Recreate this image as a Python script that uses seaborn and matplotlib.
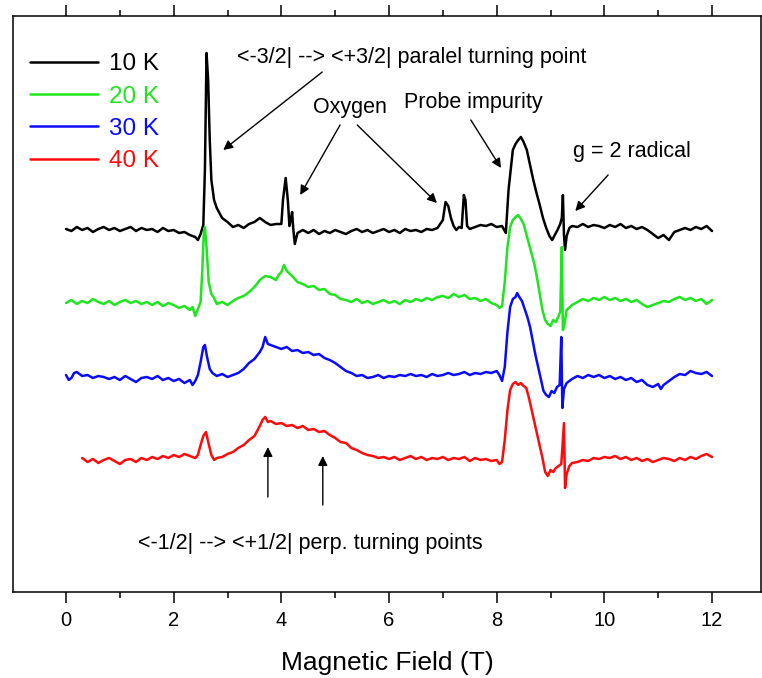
import pandas as pd
import matplotlib
matplotlib.use("Agg")
import matplotlib.pyplot as plt
import seaborn as sns

# spectra, signal relative to each trace's own baseline (arb. units)
temps = ["10 K", "20 K", "30 K", "40 K"]
colors = ["#000000", "#1ee61e", "#0a0aff", "#ff0a0a"]
offsets = [362, 290, 215, 132]

trace_10K = [
    (0.00, 1), (0.10, -1), (0.20, 3), (0.30, 0), (0.40, 2), (0.50, -2), (0.60, 1), (0.70, 3),
    (0.80, 0), (0.90, 2), (1.00, -1), (1.10, 1), (1.20, 3), (1.30, -1), (1.40, 2), (1.50, 0),
    (1.60, 1), (1.70, -2), (1.80, 2), (1.90, -1), (2.00, 0), (2.10, -3), (2.20, -2), (2.30, -5),
    (2.40, -7), (2.45, -10), (2.50, -4), (2.55, 5), (2.58, 60), (2.61, 177), (2.64, 150),
    (2.67, 90), (2.70, 50), (2.75, 30), (2.80, 22), (2.90, 12), (3.00, 8), (3.10, 3), (3.20, 5),
    (3.30, 2), (3.40, 6), (3.50, 8), (3.60, 12), (3.65, 10), (3.70, 8), (3.80, 5), (3.90, 6),
    (4.00, 6), (4.03, 30), (4.08, 52), (4.12, 30), (4.15, 4), (4.18, 12), (4.20, 18), (4.22, 2),
    (4.25, -14), (4.30, -3), (4.40, 0), (4.50, -3), (4.60, 0), (4.70, -4), (4.80, -1), (4.90, -3),
    (5.00, 0), (5.10, -2), (5.20, -4), (5.30, -1), (5.40, 1), (5.50, -2), (5.60, 0), (5.70, -3),
    (5.80, -1), (5.90, 1), (6.00, -2), (6.10, 0), (6.20, -3), (6.30, 1), (6.40, -1), (6.50, 0),
    (6.60, -2), (6.70, 1), (6.80, 0), (6.90, 2), (7.00, 10), (7.05, 28), (7.10, 24), (7.15, 12),
    (7.20, 4), (7.25, 0), (7.30, 3), (7.35, 2), (7.39, 35), (7.42, 30), (7.45, 4), (7.50, 1),
    (7.60, 3), (7.70, 5), (7.80, 4), (7.90, 6), (8.00, 3), (8.10, 4), (8.17, -3), (8.22, 40),
    (8.30, 80), (8.35, 86), (8.40, 90), (8.45, 93), (8.50, 88), (8.56, 80), (8.62, 65),
    (8.68, 50), (8.74, 37), (8.80, 25), (8.86, 12), (8.92, 2), (8.98, -6), (9.03, -10),
    (9.08, -5), (9.13, 0), (9.18, 6), (9.21, 12), (9.23, 35), (9.25, -5), (9.27, -20),
    (9.30, -6), (9.35, 2), (9.40, 4), (9.50, 3), (9.60, 6), (9.70, 3),
    (9.80, 5), (9.90, 4), (10.00, 2), (10.10, 5), (10.20, 3), (10.30, 6), (10.40, 2), (10.50, 4),
    (10.60, 1), (10.70, 3), (10.80, 0), (10.90, -4), (11.00, -8), (11.10, -5), (11.20, -10),
    (11.30, -2), (11.40, 0), (11.50, 2), (11.60, 0), (11.70, 3), (11.80, 1), (11.90, 4), (12.00, -1),
]

trace_20K = [
    (0.00, -1), (0.10, 2), (0.20, -2), (0.30, 1), (0.40, -1), (0.50, 3), (0.60, 0), (0.70, -2),
    (0.80, 1), (0.90, -3), (1.00, 0), (1.10, 2), (1.20, -1), (1.30, 1), (1.40, -2), (1.50, 0),
    (1.60, -3), (1.70, 0), (1.80, -4), (1.90, -1), (2.00, -3), (2.10, -6), (2.20, -4), (2.30, -8),
    (2.35, -5), (2.40, -14), (2.45, -7), (2.50, 0), (2.53, 30), (2.56, 70), (2.58, 75),
    (2.61, 55), (2.65, 20), (2.70, 8), (2.75, 4), (2.80, -2), (2.90, 0), (3.00, -3), (3.10, 1),
    (3.20, 4), (3.30, 6), (3.40, 10), (3.50, 15), (3.60, 22), (3.70, 26), (3.80, 25), (3.90, 22),
    (3.95, 27), (4.00, 30), (4.05, 37), (4.10, 31), (4.20, 26), (4.30, 20), (4.40, 18), (4.50, 15),
    (4.60, 16), (4.70, 12), (4.80, 13), (4.90, 8), (5.00, 7), (5.10, 3), (5.20, 2), (5.30, 0),
    (5.40, 3), (5.50, -1), (5.60, 1), (5.70, -2), (5.80, 0), (5.90, 2), (6.00, -1), (6.10, 1),
    (6.20, -2), (6.30, 2), (6.40, 0), (6.50, 3), (6.60, 1), (6.70, 4), (6.80, 2), (6.90, 5),
    (7.00, 6), (7.10, 4), (7.20, 8), (7.30, 5), (7.40, 7), (7.50, 3), (7.60, 4), (7.70, 1),
    (7.80, 3), (7.90, -1), (8.00, -3), (8.05, -6), (8.10, -4), (8.15, 20), (8.20, 55), (8.25, 75),
    (8.30, 82), (8.35, 85), (8.40, 87), (8.45, 83), (8.50, 78), (8.55, 68), (8.60, 58), (8.65, 48),
    (8.70, 38), (8.75, 24), (8.80, 8), (8.85, -8), (8.90, -18), (8.95, -22), (9.00, -24),
    (9.05, -18), (9.10, -20), (9.15, -14), (9.18, -10), (9.21, 55), (9.23, -28), (9.26, -22),
    (9.30, -8), (9.40, -3), (9.50, 0), (9.60, 3), (9.70, 1), (9.80, 4), (9.90, 2), (10.00, 5),
    (10.10, 2), (10.20, 4), (10.30, 1), (10.40, 3), (10.50, 0), (10.60, 2), (10.70, -2),
    (10.80, -5), (10.90, -3), (11.00, -1), (11.10, 1), (11.20, 0), (11.30, 3), (11.40, 5),
    (11.50, 2), (11.60, 4), (11.70, 1), (11.80, 3), (11.90, -2), (12.00, 2),
]

trace_30K = [
    (0.00, 2), (0.05, -3), (0.10, -1), (0.15, 4), (0.20, 5), (0.30, 1), (0.40, 2), (0.50, -1),
    (0.60, 1), (0.70, 0), (0.80, -2), (0.90, 0), (1.00, -3), (1.10, 1), (1.20, -2), (1.30, -5),
    (1.40, -1), (1.50, 0), (1.60, -2), (1.70, 1), (1.80, -3), (1.90, -1), (2.00, -4), (2.10, -2),
    (2.20, -6), (2.30, -3), (2.35, -8), (2.40, -4), (2.45, 2), (2.50, 15), (2.55, 30), (2.58, 32),
    (2.62, 20), (2.67, 8), (2.72, 4), (2.80, 1), (2.90, 3), (3.00, 0), (3.10, 2), (3.20, 4),
    (3.30, 8), (3.40, 14), (3.50, 18), (3.60, 25), (3.65, 30), (3.70, 40), (3.75, 33), (3.80, 32),
    (3.90, 30), (4.00, 28), (4.10, 30), (4.20, 26), (4.30, 27), (4.40, 24), (4.50, 25), (4.60, 22),
    (4.70, 23), (4.80, 19), (4.90, 17), (5.00, 14), (5.10, 10), (5.20, 6), (5.30, 4), (5.40, 1),
    (5.50, 2), (5.60, -1), (5.70, 0), (5.80, 2), (5.90, -1), (6.00, 1), (6.10, 0), (6.20, 2),
    (6.30, 1), (6.40, 3), (6.50, 1), (6.60, 2), (6.70, 0), (6.80, 3), (6.90, 1), (7.00, 2),
    (7.10, 4), (7.20, 2), (7.30, 3), (7.40, 5), (7.50, 2), (7.60, 4), (7.70, 3), (7.80, 5),
    (7.90, 4), (8.00, 6), (8.05, 2), (8.10, -4), (8.15, 10), (8.20, 45), (8.25, 70), (8.30, 78),
    (8.35, 80), (8.38, 84), (8.42, 80), (8.47, 76), (8.52, 68), (8.57, 60), (8.62, 50), (8.67, 36),
    (8.72, 22), (8.77, 10), (8.82, -2), (8.87, -14), (8.92, -18), (8.97, -20), (9.02, -14),
    (9.07, -16), (9.12, -10), (9.17, -8), (9.20, 40), (9.22, -31), (9.25, -12), (9.30, -6),
    (9.40, -2), (9.50, 1), (9.60, -1), (9.70, 2), (9.80, 0), (9.90, 2), (10.00, -1), (10.10, 1),
    (10.20, -2), (10.30, 0), (10.40, -3), (10.50, -1), (10.60, -5), (10.70, -3), (10.80, -8),
    (10.90, -10), (11.00, -7), (11.05, -12), (11.10, -8), (11.20, -4), (11.30, 0), (11.40, 3),
    (11.50, 2), (11.60, 6), (11.70, 4), (11.80, 3), (11.90, 5), (12.00, 1),
]

trace_40K = [
    (0.30, 2), (0.40, -2), (0.50, 1), (0.60, -3), (0.70, 0), (0.80, 2), (0.90, -1), (1.00, -4),
    (1.10, 0), (1.20, 1), (1.30, -2), (1.40, 2), (1.50, 0), (1.60, 3), (1.70, 1), (1.80, 4),
    (1.90, 2), (2.00, 5), (2.10, 3), (2.20, 6), (2.30, 4), (2.40, 2), (2.45, 5), (2.50, 15),
    (2.55, 24), (2.60, 28), (2.65, 16), (2.70, 5), (2.75, 0), (2.80, 2), (2.90, 3), (3.00, 6),
    (3.10, 8), (3.20, 12), (3.30, 15), (3.40, 20), (3.50, 24), (3.60, 34), (3.65, 40), (3.70, 43),
    (3.75, 38), (3.80, 39), (3.90, 36), (4.00, 37), (4.10, 34), (4.20, 35), (4.30, 32), (4.40, 34),
    (4.50, 30), (4.60, 31), (4.70, 28), (4.80, 29), (4.90, 25), (5.00, 22), (5.10, 18), (5.20, 17),
    (5.30, 12), (5.40, 10), (5.50, 7), (5.60, 5), (5.70, 4), (5.80, 2), (5.90, 3), (6.00, 1),
    (6.10, 3), (6.20, 0), (6.30, 2), (6.40, 4), (6.50, 1), (6.60, 3), (6.70, 0), (6.80, 2),
    (6.90, 1), (7.00, 3), (7.10, 0), (7.20, 2), (7.30, 1), (7.40, 3), (7.50, -1), (7.60, 2),
    (7.70, 0), (7.80, 1), (7.90, -1), (8.00, 0), (8.05, -4), (8.10, -2), (8.15, 20), (8.20, 50),
    (8.25, 70), (8.30, 76), (8.35, 78), (8.40, 75), (8.45, 77), (8.50, 74), (8.55, 72), (8.60, 62),
    (8.65, 50), (8.70, 38), (8.75, 26), (8.80, 14), (8.85, 2), (8.90, -12), (8.95, -16),
    (9.00, -10), (9.05, -12), (9.10, -8), (9.15, -6), (9.20, -4), (9.25, 37), (9.27, -28),
    (9.30, -14), (9.35, -6), (9.40, -3), (9.50, -2), (9.60, 0), (9.70, -1), (9.80, 2), (9.90, 1),
    (10.00, 3), (10.10, 2), (10.20, 4), (10.30, 1), (10.40, 3), (10.50, 0), (10.60, 2), (10.70, -1),
    (10.80, 1), (10.90, -2), (11.00, 0), (11.10, 2), (11.20, 1), (11.30, -1), (11.40, 2),
    (11.50, 0), (11.60, 3), (11.70, 1), (11.80, 4), (11.90, 6), (12.00, 3),
]

traces = [trace_10K, trace_20K, trace_30K, trace_40K]

rows = []
for t, pts, off in zip(temps, traces, offsets):
    for x, s in pts:
        rows.append((t, x, s + off))
df = pd.DataFrame(rows, columns=["temp", "field", "signal"])

sns.set_theme(style="ticks")
plt.rcParams["font.family"] = ["Liberation Sans", "DejaVu Sans"]
plt.rcParams["text.color"] = "black"
plt.rcParams["axes.labelcolor"] = "black"
plt.rcParams["xtick.color"] = "black"

fig = plt.figure(figsize=(7.62, 6.78), dpi=100)
ax = fig.add_axes([13 / 762, 86 / 678, 748 / 762, 576 / 678])

sns.lineplot(data=df, x="field", y="signal", hue="temp", palette=colors,
             estimator=None, sort=False, lw=1.8, legend=False, ax=ax)

ax.set_xlim(-0.985, 12.91)
ax.set_ylim(0, 576)
ax.set_yticks([])
ax.set_ylabel("")
ax.set_xticks(range(0, 13, 2))
ax.set_xticks(range(1, 12, 2), minor=True)
ax.tick_params(axis="x", which="both", top=True, direction="out", width=1.1,
               labelsize=14.5, pad=6, color="black", labelcolor="black")
ax.tick_params(axis="x", which="major", length=8)
ax.tick_params(axis="x", which="minor", length=4)
for sp in ax.spines.values():
    sp.set_linewidth(1.1)
    sp.set_color("black")
ax.set_xlabel("Magnetic Field (T)", fontsize=19, labelpad=15, color="black")

leg = ax.legend(ax.lines[:4], temps, loc="upper left", bbox_to_anchor=(0.023, 0.935),
                frameon=False, fontsize=17.5, handlelength=2.8, handletextpad=0.45,
                labelspacing=0.42, borderpad=0, borderaxespad=0)
for txt, c in zip(leg.get_texts(), colors):
    txt.set_color(c)
for ln in leg.get_lines():
    ln.set_linewidth(1.8)

arrow = dict(arrowstyle="-|>", color="black", lw=1.0, mutation_scale=14, shrinkA=0, shrinkB=0)
fs = 15.5

ax.text(3.18, 529, "<-3/2| --> <+3/2| paralel turning point", fontsize=fs, va="baseline", color="black")
ax.annotate("", xy=(2.92, 442), xytext=(4.76, 520), arrowprops=arrow)

ax.text(4.59, 479, "Oxygen", fontsize=fs, va="baseline", color="black")
ax.annotate("", xy=(4.35, 397), xytext=(5.09, 467), arrowprops=arrow)
ax.annotate("", xy=(6.89, 389), xytext=(5.41, 467), arrowprops=arrow)

ax.text(6.28, 484, "Probe impurity", fontsize=fs, va="baseline", color="black")
ax.annotate("", xy=(8.08, 424), xytext=(7.52, 472), arrowprops=arrow)

ax.text(9.42, 435, "g = 2 radical", fontsize=fs, va="baseline", color="black")
ax.annotate("", xy=(9.46, 381), xytext=(10.07, 417), arrowprops=arrow)

ax.text(1.34, 43, "<-1/2| --> <+1/2| perp. turning points", fontsize=fs, va="baseline", color="black")
ax.annotate("", xy=(3.75, 145), xytext=(3.75, 95), arrowprops=arrow)
ax.annotate("", xy=(4.77, 136), xytext=(4.77, 87), arrowprops=arrow)

fig.savefig("out.png", dpi=100)
